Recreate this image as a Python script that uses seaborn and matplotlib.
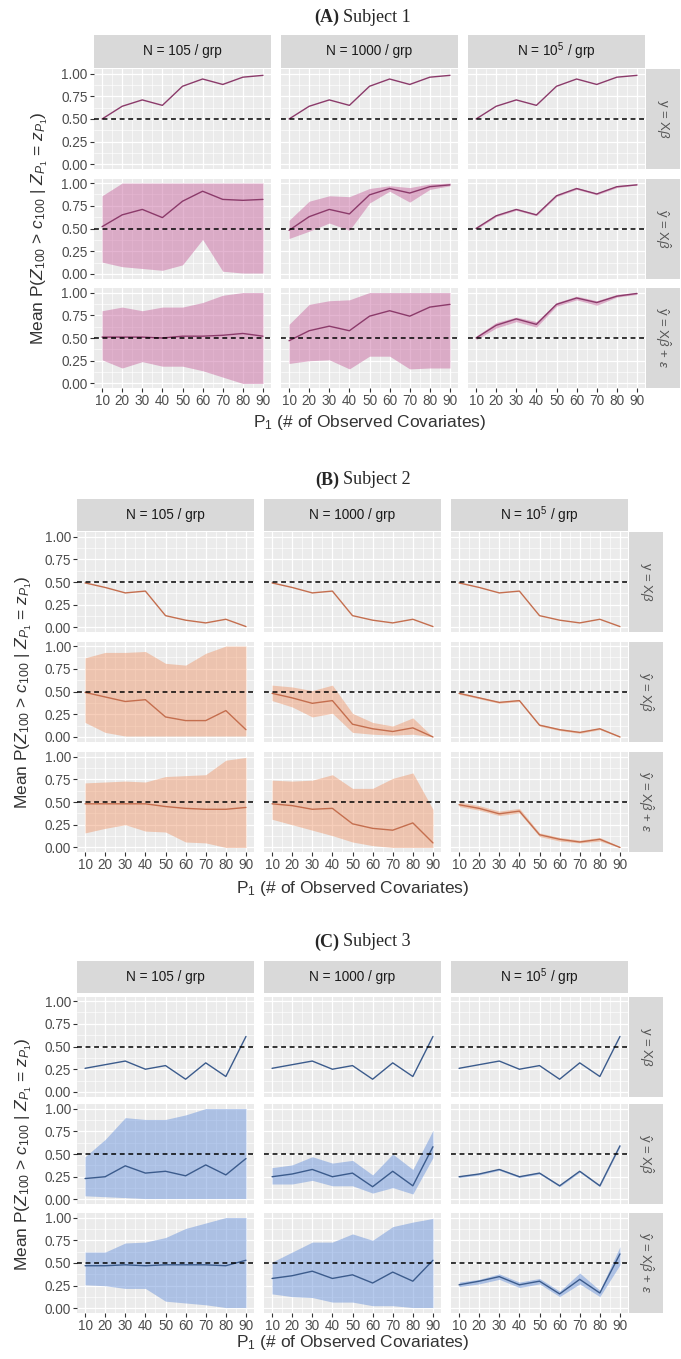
import matplotlib
matplotlib.use("Agg")
import matplotlib.pyplot as plt
import pandas as pd
import seaborn as sns

# ---------------------------------------------------------------- data
P1 = [10, 20, 30, 40, 50, 60, 70, 80, 90]
SAMPLE_LABELS = ["N = 105 / grp", "N = 1000 / grp", "N = 10$^5$ / grp"]
MODEL_LABELS = ["y = X$\\beta$",
                "$\\hat{\\mathrm{y}}$ = X$\\hat{\\beta}$",
                "$\\hat{\\mathrm{y}}$ = X$\\hat{\\beta}$ + $\\varepsilon$"]
SUBJECT_TAGS = ["(A)", "(B)", "(C)"]
SUBJECT_NAMES = ["Subject 1", "Subject 2", "Subject 3"]

# Subject 1
s1_true = [0.50, 0.64, 0.71, 0.65, 0.86, 0.94, 0.88, 0.96, 0.98]
s1_fit_105_mean = [0.52, 0.65, 0.71, 0.62, 0.80, 0.91, 0.82, 0.81, 0.82]
s1_fit_105_lo = [0.13, 0.08, 0.06, 0.04, 0.10, 0.38, 0.03, 0.01, 0.01]
s1_fit_105_hi = [0.86, 1.00, 1.00, 1.00, 1.00, 1.00, 1.00, 1.00, 1.00]
s1_fit_1000_mean = [0.48, 0.63, 0.71, 0.66, 0.87, 0.94, 0.89, 0.96, 0.98]
s1_fit_1000_lo = [0.39, 0.47, 0.56, 0.48, 0.78, 0.91, 0.79, 0.93, 0.97]
s1_fit_1000_hi = [0.59, 0.80, 0.86, 0.85, 0.94, 0.97, 0.95, 0.99, 1.00]
s1_fit_1e5_mean = [0.50, 0.64, 0.71, 0.65, 0.86, 0.94, 0.88, 0.96, 0.98]
s1_fit_1e5_lo = [0.49, 0.63, 0.70, 0.64, 0.85, 0.93, 0.87, 0.95, 0.98]
s1_fit_1e5_hi = [0.51, 0.65, 0.72, 0.66, 0.87, 0.95, 0.89, 0.97, 0.99]
s1_noise_105_mean = [0.51, 0.51, 0.51, 0.50, 0.52, 0.52, 0.53, 0.55, 0.52]
s1_noise_105_lo = [0.26, 0.17, 0.24, 0.19, 0.19, 0.14, 0.07, 0.00, 0.00]
s1_noise_105_hi = [0.80, 0.84, 0.80, 0.84, 0.84, 0.89, 0.97, 1.00, 1.00]
s1_noise_1000_mean = [0.47, 0.58, 0.63, 0.58, 0.74, 0.80, 0.74, 0.84, 0.87]
s1_noise_1000_lo = [0.22, 0.25, 0.26, 0.16, 0.30, 0.30, 0.16, 0.17, 0.17]
s1_noise_1000_hi = [0.65, 0.87, 0.91, 0.92, 1.00, 1.00, 1.00, 1.00, 1.00]
s1_noise_1e5_mean = [0.50, 0.64, 0.71, 0.65, 0.87, 0.94, 0.89, 0.96, 0.99]
s1_noise_1e5_lo = [0.48, 0.61, 0.68, 0.62, 0.85, 0.92, 0.86, 0.95, 0.98]
s1_noise_1e5_hi = [0.52, 0.67, 0.73, 0.68, 0.89, 0.96, 0.91, 0.98, 1.00]

# Subject 2
s2_true = [0.49, 0.44, 0.38, 0.40, 0.13, 0.08, 0.05, 0.09, 0.01]
s2_fit_105_mean = [0.49, 0.44, 0.39, 0.41, 0.22, 0.18, 0.18, 0.29, 0.08]
s2_fit_105_lo = [0.16, 0.05, 0.01, 0.01, 0.01, 0.01, 0.01, 0.01, 0.01]
s2_fit_105_hi = [0.87, 0.93, 0.93, 0.94, 0.81, 0.79, 0.92, 1.00, 1.00]
s2_fit_1000_mean = [0.48, 0.43, 0.37, 0.40, 0.14, 0.09, 0.06, 0.10, 0.00]
s2_fit_1000_lo = [0.40, 0.33, 0.22, 0.26, 0.05, 0.03, 0.02, 0.03, 0.00]
s2_fit_1000_hi = [0.57, 0.55, 0.51, 0.57, 0.26, 0.16, 0.12, 0.21, 0.00]
s2_fit_1e5_mean = [0.48, 0.43, 0.38, 0.40, 0.13, 0.08, 0.05, 0.09, 0.00]
s2_fit_1e5_lo = [0.47, 0.42, 0.37, 0.39, 0.12, 0.07, 0.04, 0.08, 0.00]
s2_fit_1e5_hi = [0.49, 0.44, 0.39, 0.41, 0.14, 0.09, 0.06, 0.10, 0.01]
s2_noise_105_mean = [0.48, 0.48, 0.48, 0.48, 0.45, 0.43, 0.42, 0.42, 0.44]
s2_noise_105_lo = [0.16, 0.21, 0.25, 0.18, 0.17, 0.06, 0.05, 0.00, 0.00]
s2_noise_105_hi = [0.71, 0.72, 0.73, 0.72, 0.78, 0.79, 0.80, 0.96, 0.99]
s2_noise_1000_mean = [0.48, 0.46, 0.42, 0.43, 0.26, 0.21, 0.19, 0.27, 0.05]
s2_noise_1000_lo = [0.31, 0.25, 0.19, 0.13, 0.06, 0.02, 0.00, 0.00, 0.00]
s2_noise_1000_hi = [0.74, 0.73, 0.74, 0.80, 0.65, 0.65, 0.76, 0.82, 0.42]
s2_noise_1e5_mean = [0.47, 0.43, 0.37, 0.40, 0.14, 0.09, 0.06, 0.09, 0.00]
s2_noise_1e5_lo = [0.45, 0.41, 0.35, 0.38, 0.12, 0.07, 0.05, 0.07, 0.00]
s2_noise_1e5_hi = [0.50, 0.46, 0.40, 0.43, 0.16, 0.11, 0.08, 0.11, 0.01]

# Subject 3
s3_true = [0.26, 0.30, 0.34, 0.25, 0.29, 0.14, 0.32, 0.17, 0.61]
s3_fit_105_mean = [0.23, 0.25, 0.37, 0.29, 0.31, 0.26, 0.38, 0.27, 0.45]
s3_fit_105_lo = [0.04, 0.03, 0.02, 0.01, 0.01, 0.01, 0.01, 0.01, 0.01]
s3_fit_105_hi = [0.47, 0.66, 0.90, 0.88, 0.88, 0.93, 1.00, 1.00, 1.00]
s3_fit_1000_mean = [0.25, 0.28, 0.33, 0.25, 0.29, 0.14, 0.31, 0.15, 0.58]
s3_fit_1000_lo = [0.17, 0.17, 0.21, 0.15, 0.15, 0.07, 0.13, 0.06, 0.46]
s3_fit_1000_hi = [0.35, 0.38, 0.47, 0.40, 0.43, 0.27, 0.50, 0.33, 0.76]
s3_fit_1e5_mean = [0.25, 0.28, 0.33, 0.25, 0.29, 0.15, 0.31, 0.15, 0.59]
s3_fit_1e5_lo = [0.24, 0.27, 0.32, 0.24, 0.28, 0.14, 0.30, 0.14, 0.58]
s3_fit_1e5_hi = [0.26, 0.29, 0.34, 0.26, 0.30, 0.16, 0.32, 0.16, 0.60]
s3_noise_105_mean = [0.47, 0.47, 0.48, 0.47, 0.48, 0.48, 0.48, 0.47, 0.53]
s3_noise_105_lo = [0.26, 0.25, 0.22, 0.22, 0.08, 0.06, 0.04, 0.01, 0.01]
s3_noise_105_hi = [0.62, 0.62, 0.72, 0.73, 0.78, 0.88, 0.94, 1.00, 1.00]
s3_noise_1000_mean = [0.33, 0.36, 0.41, 0.33, 0.37, 0.28, 0.40, 0.30, 0.53]
s3_noise_1000_lo = [0.16, 0.13, 0.12, 0.07, 0.07, 0.03, 0.03, 0.01, 0.01]
s3_noise_1000_hi = [0.51, 0.62, 0.73, 0.73, 0.82, 0.75, 0.90, 0.95, 0.99]
s3_noise_1e5_mean = [0.26, 0.30, 0.35, 0.26, 0.30, 0.16, 0.32, 0.17, 0.60]
s3_noise_1e5_lo = [0.24, 0.27, 0.32, 0.23, 0.27, 0.13, 0.27, 0.13, 0.48]
s3_noise_1e5_hi = [0.29, 0.32, 0.38, 0.29, 0.33, 0.19, 0.39, 0.20, 0.68]

# ------------------------------------------------- assemble long table
subjects = [
    (s1_true,
     [(s1_fit_105_mean, s1_fit_105_lo, s1_fit_105_hi),
      (s1_fit_1000_mean, s1_fit_1000_lo, s1_fit_1000_hi),
      (s1_fit_1e5_mean, s1_fit_1e5_lo, s1_fit_1e5_hi)],
     [(s1_noise_105_mean, s1_noise_105_lo, s1_noise_105_hi),
      (s1_noise_1000_mean, s1_noise_1000_lo, s1_noise_1000_hi),
      (s1_noise_1e5_mean, s1_noise_1e5_lo, s1_noise_1e5_hi)]),
    (s2_true,
     [(s2_fit_105_mean, s2_fit_105_lo, s2_fit_105_hi),
      (s2_fit_1000_mean, s2_fit_1000_lo, s2_fit_1000_hi),
      (s2_fit_1e5_mean, s2_fit_1e5_lo, s2_fit_1e5_hi)],
     [(s2_noise_105_mean, s2_noise_105_lo, s2_noise_105_hi),
      (s2_noise_1000_mean, s2_noise_1000_lo, s2_noise_1000_hi),
      (s2_noise_1e5_mean, s2_noise_1e5_lo, s2_noise_1e5_hi)]),
    (s3_true,
     [(s3_fit_105_mean, s3_fit_105_lo, s3_fit_105_hi),
      (s3_fit_1000_mean, s3_fit_1000_lo, s3_fit_1000_hi),
      (s3_fit_1e5_mean, s3_fit_1e5_lo, s3_fit_1e5_hi)],
     [(s3_noise_105_mean, s3_noise_105_lo, s3_noise_105_hi),
      (s3_noise_1000_mean, s3_noise_1000_lo, s3_noise_1000_hi),
      (s3_noise_1e5_mean, s3_noise_1e5_lo, s3_noise_1e5_hi)]),
]

rows = []
for si, (truth, fit, noise) in enumerate(subjects):
    for ci in range(3):
        for x, m in zip(P1, truth):
            rows.append(dict(subject=si, model=0, n=ci, p1=x, mean=m, lo=None, hi=None))
        for mi, block in ((1, fit), (2, noise)):
            mean, lo, hi = block[ci]
            for x, m, a, b in zip(P1, mean, lo, hi):
                rows.append(dict(subject=si, model=mi, n=ci, p1=x, mean=m, lo=a, hi=b))
df = pd.DataFrame(rows)

# ---------------------------------------------------------------- style
sns.set_theme(style="darkgrid")
plt.rcParams["font.family"] = ["Liberation Sans Narrow", "Liberation Sans", "DejaVu Sans"]
plt.rcParams["mathtext.fontset"] = "custom"
plt.rcParams["mathtext.rm"] = "Liberation Sans"
plt.rcParams["mathtext.it"] = "Liberation Sans:italic"
plt.rcParams["mathtext.bf"] = "Liberation Sans:bold"

LINE_COLORS = ["#8B3A6A", "#C46E4E", "#3B5B8C"]
FILL_COLORS = ["#C8659F", "#EE9466", "#6E96DC"]
FILL_ALPHA = [0.48, 0.45, 0.50]

W, H = 681, 1359
fig = plt.figure(figsize=(W / 100, H / 100), dpi=100)
fig.patch.set_facecolor("white")

# pixel layout of each subject block
LAYOUT = [
    dict(cols=[94, 281, 468], rows=[69, 178.5, 288], rstrip=646, strip=(35, 68),
         title=17, xlab=423, ylab=40),
    dict(cols=[77, 264, 451], rows=[532, 641.5, 752], rstrip=629, strip=(499, 531),
         title=480, xlab=888, ylab=24),
    dict(cols=[77, 264, 451], rows=[996.5, 1104, 1213], rstrip=629, strip=(961, 993),
         title=942, xlab=1343, ylab=24),
]
PW, PH, RSW = 177, 100, 34


def add_ax(x, y, w, h):
    return fig.add_axes([x / W, 1 - (y + h) / H, w / W, h / H])


YLABEL = "Mean P($Z_{100}$ > $c_{100}$ | $Z_{P_1}$ = $z_{P_1}$)"
XLABEL = "P$_1$ (# of Observed Covariates)"

for si in range(3):
    L = LAYOUT[si]
    for ri in range(3):
        for ci in range(3):
            ax = add_ax(L["cols"][ci], L["rows"][ri], PW, PH)
            ax.set_facecolor("#EBEBEB")
            sub = df[(df.subject == si) & (df.model == ri) & (df.n == ci)]
            if ri > 0:
                ax.fill_between(sub.p1, sub.lo, sub.hi, color=FILL_COLORS[si],
                                alpha=FILL_ALPHA[si], lw=0, zorder=2)
            sns.lineplot(data=sub, x="p1", y="mean", ax=ax, color=LINE_COLORS[si],
                         lw=1.0, errorbar=None, legend=False, zorder=3)
            ax.axhline(0.5, color="black", ls=(0, (3.2, 2.4)), lw=1.1, zorder=4)
            ax.set_xlim(6, 94)
            ax.set_ylim(-0.05, 1.05)
            ax.set_xticks(P1)
            ax.set_xticks([15, 25, 35, 45, 55, 65, 75, 85], minor=True)
            ax.set_yticks([0, 0.25, 0.5, 0.75, 1.0])
            ax.set_yticks([0.125, 0.375, 0.625, 0.875], minor=True)
            ax.grid(which="major", color="white", lw=0.9, zorder=1)
            ax.grid(which="minor", color="white", lw=0.45, zorder=1)
            ax.set_axisbelow(True)
            for sp in ax.spines.values():
                sp.set_visible(False)
            ax.set_xlabel("")
            ax.set_ylabel("")
            ax.tick_params(which="minor", length=0)
            ax.tick_params(which="major", length=3, width=0.8, color="#333333",
                           labelsize=9.8, labelcolor="#4D4D4D", pad=1.5,
                           left=(ci == 0), bottom=(ri == 2),
                           labelleft=(ci == 0), labelbottom=(ri == 2))
            ax.set_yticklabels(["0.00", "0.25", "0.50", "0.75", "1.00"])

        # model strip on the right
        sx = add_ax(L["rstrip"], L["rows"][ri], RSW, PH)
        sx.set_facecolor("#D9D9D9")
        sx.set_xticks([]); sx.set_yticks([])
        for sp in sx.spines.values():
            sp.set_visible(False)
        sx.text(0.5, 0.5, MODEL_LABELS[ri], rotation=-90, ha="center", va="center",
                fontsize=9.5, color="#555555", transform=sx.transAxes)

    # sample-size strips on top
    for ci in range(3):
        tx = add_ax(L["cols"][ci], L["strip"][0], PW, L["strip"][1] - L["strip"][0])
        tx.set_facecolor("#D9D9D9")
        tx.set_xticks([]); tx.set_yticks([])
        for sp in tx.spines.values():
            sp.set_visible(False)
        tx.text(0.5, 0.5, SAMPLE_LABELS[ci], ha="center", va="center",
                fontsize=9.8, color="#1A1A1A", transform=tx.transAxes)

    # block titles and axis titles
    ty = 1 - L["title"] / H
    fig.text(339 / W, ty, SUBJECT_TAGS[si], ha="right", va="center",
             fontsize=13, fontweight="bold", family="Liberation Serif")
    fig.text(343 / W, ty, SUBJECT_NAMES[si], ha="left", va="center",
             fontsize=13, family="Liberation Serif")
    cx = (L["cols"][0] + L["cols"][2] + PW) / 2
    fig.text(cx / W, 1 - L["xlab"] / H, XLABEL, ha="center", va="center",
             fontsize=12.5, color="#333333")
    cy = (L["rows"][0] + L["rows"][2] + PH) / 2
    fig.text(L["ylab"] / W, 1 - cy / H, YLABEL, rotation=90, ha="center",
             va="center", fontsize=12.5, color="#333333")

fig.savefig("out.png", dpi=100, facecolor="white")
